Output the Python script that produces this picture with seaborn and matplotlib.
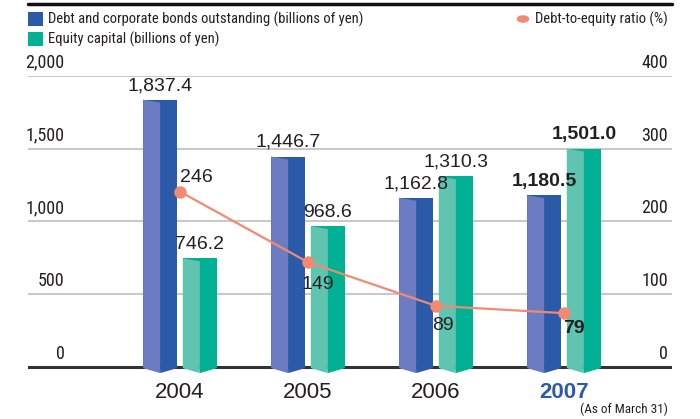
import numpy as np
import pandas as pd
import seaborn as sns
import matplotlib.pyplot as plt
from matplotlib import font_manager
from matplotlib.patches import Polygon, Rectangle, Circle
from matplotlib.lines import Line2D
import matplotlib.transforms as mtransforms

# data
years = ["2004", "2005", "2006", "2007"]
debt = [1837.4, 1446.7, 1162.8, 1180.5]
equity = [746.2, 968.6, 1310.3, 1501.0]
ratio = [246, 149, 89, 79]
left_ticks = [0, 500, 1000, 1500, 2000]
right_ticks = [0, 100, 200, 300, 400]
series_names = ["Debt and corporate bonds outstanding (billions of yen)",
                "Equity capital (billions of yen)"]
line_name = "Debt-to-equity ratio (%)"

# colours
DEBT_DARK, DEBT_LIGHT = "#2b5aa9", "#6b7cc2"
EQ_DARK, EQ_LIGHT = "#00b293", "#5fc5b1"
LINE_C = "#f28a72"
TXT = "#231f20"

sns.set_theme(style="white")
names = {f.name for f in font_manager.fontManager.ttflist}
narrow = next((n for n in ["Liberation Sans Narrow", "Roboto Condensed", "Open Sans Condensed"]
               if n in names), "Liberation Sans")
plt.rcParams['font.family'] = ["Liberation Sans", "DejaVu Sans"]

fig = plt.figure(figsize=(7, 4.19), dpi=100)
ax = fig.add_axes([0.04, 0.1033, 0.92, 0.7153])

df = pd.DataFrame({
    "year": years * 2,
    "value": debt + equity,
    "series": [series_names[0]] * 4 + [series_names[1]] * 4,
})
sns.barplot(data=df, x="year", y="value", hue="series", palette=[DEBT_DARK, EQ_DARK],
            saturation=1, width=0.62, gap=0.14, legend=False, ax=ax, zorder=3,
            linewidth=0)

ax.set_ylim(-60, 2000)
ax.set_xlim(-1.1875, 3.84375)
for s in ax.spines.values():
    s.set_visible(False)
ax.set_xticks([])
ax.set_yticks([])
ax.set_xlabel("")
ax.set_ylabel("")

# grid + baseline
for t in left_ticks[1:]:
    ax.axhline(t, color="#c8c8c8", lw=1.4, zorder=1)
ax.axhline(0, color="#333333", lw=2.2, zorder=2)

# 3D faces on bars
lights = [DEBT_LIGHT, EQ_LIGHT]
darks = [DEBT_DARK, EQ_DARK]
for ci, cont in enumerate(ax.containers):
    for p in cont.patches:
        x0 = p.get_x()
        w = p.get_width()
        h = p.get_height()
        xm = x0 + w * 0.5
        x1 = x0 + w
        ax.add_patch(Polygon([(x0, h), (xm, h - 20), (xm, -42), (x0, -8)],
                             closed=True, fc=lights[ci], ec="none", zorder=4))
        ax.add_patch(Polygon([(xm, 0), (x1, 0), (x1, -8), (xm, -42)],
                             closed=True, fc=darks[ci], ec="none", zorder=4))

# bar value labels
for ci, (cont, vals) in enumerate(zip(ax.containers, [debt, equity])):
    for i, (p, v) in enumerate(zip(cont.patches, vals)):
        bold = i == len(vals) - 1
        ax.annotate(f"{v:,.1f}", (p.get_x() + p.get_width() / 2, p.get_height()),
                    xytext=(0, 4), textcoords="offset points", ha="center", va="bottom",
                    fontsize=14, color=TXT, fontweight="bold" if bold else "normal",
                    zorder=6)

# year labels
for i, y in enumerate(years):
    last = i == len(years) - 1
    ax.annotate(y, (i, 0), xytext=(0, -11), textcoords="offset points",
                ha="center", va="top", fontsize=16,
                color=DEBT_DARK if last else TXT,
                fontweight="bold" if last else "normal", annotation_clip=False)

# ratio line
ax2 = ax.twinx()
ax2.set_ylim(-7, 405)
sns.lineplot(x=np.arange(len(ratio)), y=ratio, ax=ax2, color=LINE_C, lw=1.6,
             marker="o", markersize=9, markeredgewidth=0, zorder=5)
ax2.set_yticks([])
ax2.set_ylabel("")
for s in ax2.spines.values():
    s.set_visible(False)
ratio_offsets = [(12, 10), (7, -16), (5, -14), (7, -11)]
for i, (v, off) in enumerate(zip(ratio, ratio_offsets)):
    last = i == len(ratio) - 1
    ax2.annotate(str(v), (i, v), xytext=off, textcoords="offset points",
                 ha="center", va="center", fontsize=14, color=TXT,
                 fontweight="bold" if last else "normal", zorder=7)

# axis tick labels above gridlines (right side shares the left grid)
lt = mtransforms.blended_transform_factory(ax.transAxes, ax.transData)
for t in left_ticks:
    ax.annotate(f"{t:,}", (0.057, t), xycoords=lt, xytext=(0, 3),
                textcoords="offset points", ha="right", va="bottom",
                fontsize=13, color=TXT, family=narrow, annotation_clip=False)
for t, lab in zip(left_ticks, right_ticks):
    ax.annotate(f"{lab}", (0.994, t), xycoords=lt, xytext=(0, 3),
                textcoords="offset points", ha="right", va="bottom",
                fontsize=13, color=TXT, family=narrow, annotation_clip=False)

# top rule
fig.add_artist(Line2D([0.04, 0.96], [0.99, 0.99], color="#111111", lw=2.5))

# legend
for k, (name, col) in enumerate(zip(series_names, darks)):
    yy = 1 - (19 + 20 * k) / 419
    fig.add_artist(Rectangle((28 / 700, yy - 7 / 419), 15 / 700, 14 / 419,
                             fc=col, ec="none"))
    fig.text(48 / 700, yy, name, ha="left", va="center", fontsize=10.5,
             color=TXT, family=narrow)
fig.add_artist(Circle((523 / 700, 1 - 19 / 419), 0.009, fc=LINE_C, ec="none",
                      transform=fig.transFigure))
fig.text(0.954, 1 - 19 / 419, line_name, ha="right", va="center", fontsize=10.5,
         color=TXT, family=narrow)
fig.text(0.954, 1 - 409 / 419, "(As of March 31)", ha="right", va="center",
         fontsize=9.5, color=TXT, family=narrow)

fig.savefig("out.png", dpi=100)
